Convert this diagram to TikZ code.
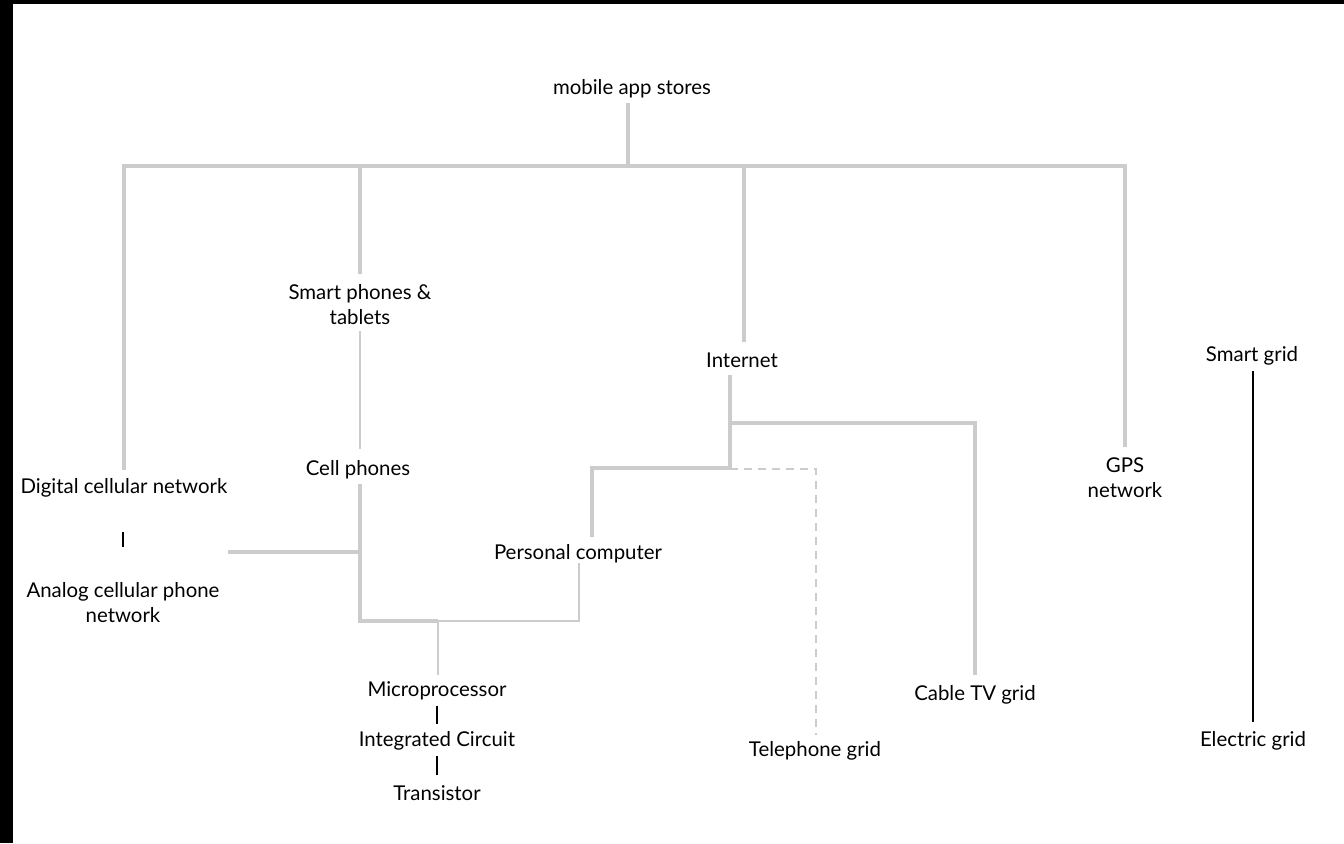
\documentclass[tikz,border=0pt]{standalone}
\usepackage{fontspec}
\setmainfont{Lato}
\definecolor{linegray}{HTML}{CCCCCC}
\begin{document}
\begin{tikzpicture}[x=0.5pt,y=-0.5pt,
  lbl/.style={inner sep=0pt, align=center, font=\fontsize{10.2}{12.5}\selectfont},
  thickg/.style={draw=linegray, line width=2pt},
  thing/.style={draw=linegray, line width=1pt},
  blk/.style={draw=black, line width=1pt},
  dsh/.style={draw=linegray, line width=1pt, dash pattern=on 4pt off 3pt}]
\useasboundingbox (0,0) rectangle (1344,843);
\fill[black] (0,0) rectangle (1344,4);
\fill[black] (0,0) rectangle (13,843);

% nodes
\node[lbl] (mas) at (632,89) {mobile app stores};
\node[lbl] (smart) at (360,305) {Smart phones \&\\tablets};
\node[lbl] (inet) at (742,360) {Internet};
\node[lbl] (sgrid) at (1252,356) {Smart grid};
\node[lbl] (dcn) at (124,488) {Digital cellular network};
\node[lbl] (cell) at (358,470) {Cell phones};
\node[lbl] (gps) at (1125,478) {GPS\\network};
\node[lbl] (pc) at (578,554) {Personal computer};
\node[lbl] (acn) at (123,603) {Analog cellular phone\\network};
\node[lbl] (micro) at (437,691) {Microprocessor};
\node[lbl] (ic) at (437,741) {Integrated Circuit};
\node[lbl] (trans) at (437,793) {Transistor};
\node[lbl] (cable) at (975,695) {Cable TV grid};
\node[lbl] (tel) at (815,751) {Telephone grid};
\node[lbl] (elec) at (1253,741) {Electric grid};

% connector end points
\coordinate (masB) at (628,103);
\coordinate (bus) at (628,166);
\coordinate (dcnT) at (124,470);
\coordinate (smartT) at (360,274);
\coordinate (inetT) at (744,342);
\coordinate (gpsT) at (1125,447);
\coordinate (smartB) at (360,331);
\coordinate (cellT) at (360,449);
\coordinate (cellB) at (360,484);
\coordinate (acnR) at (228,552);
\coordinate (hw) at (438,621);
\coordinate (pcB) at (579,563);
\coordinate (microT) at (438,675);
\coordinate (inetB) at (730,375);
\coordinate (pcT) at (592,537);
\coordinate (cableT) at (975,675);
\coordinate (telT) at (816,735);

% top bus
\draw[thickg] (masB) -- (bus);
\draw[thickg] (dcnT) -- (dcnT |- bus) -- (gpsT |- bus) -- (gpsT);
\draw[thickg] (smartT |- bus) -- (smartT);
\draw[thickg] (inetT |- bus) -- (inetT);

% phones
\draw[thing] (smartB) -- (cellT);
\draw[thickg] (cellB) -- (cellB |- hw) -- (hw);
\draw[thickg] (acnR) -- (acnR -| cellB);
\draw[thing] (hw) -- (hw -| pcB) -- (pcB);
\draw[thing] (hw) -- (microT);

% internet
\draw[thickg] (inetB) -- (inetB |- 0,468) -- (pcT |- 0,468) -- (pcT);
\draw[thickg] (inetB |- 0,423) -- (cableT |- 0,423) -- (cableT);
\draw[dsh] (inetB |- 0,469) -- (telT |- 0,469) -- (telT);

% black links
\draw[blk] (123,532) -- (123,547);
\draw[blk] (437,706) -- (437,724);
\draw[blk] (437,756) -- (437,775);
\draw[blk] (1253,371) -- (1253,722);
\end{tikzpicture}
\end{document}
